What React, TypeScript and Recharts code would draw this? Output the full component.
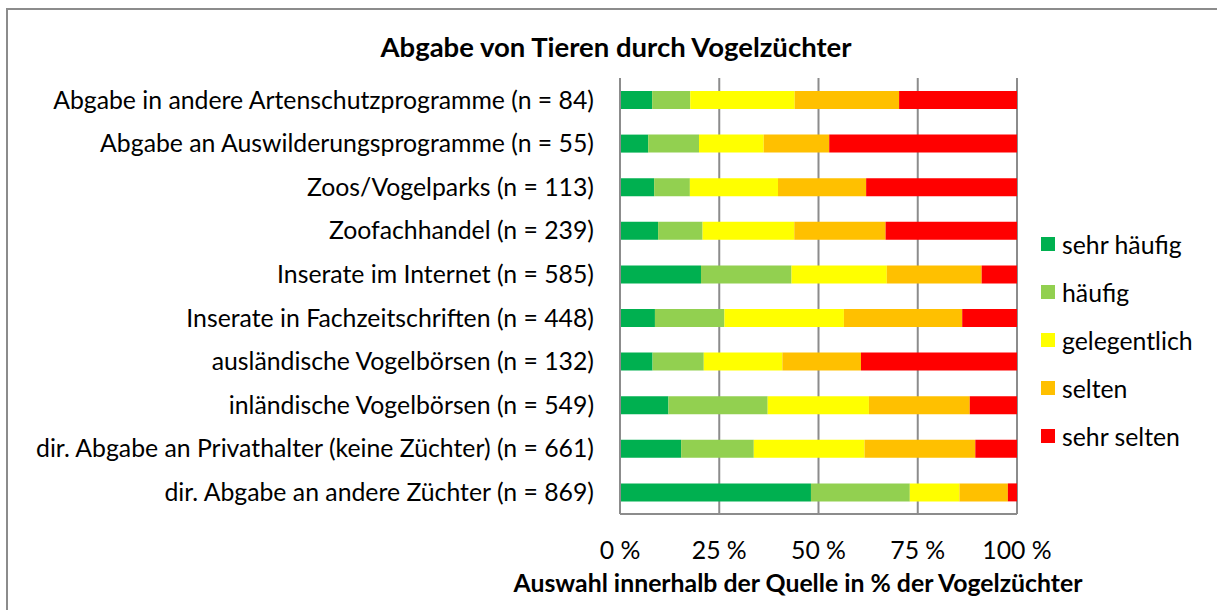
import React from "react";
import { BarChart, Bar, XAxis, YAxis, CartesianGrid, Legend } from "recharts";

const categories = [
  "Abgabe in andere Artenschutzprogramme (n = 84)",
  "Abgabe an Auswilderungsprogramme (n = 55)",
  "Zoos/Vogelparks (n = 113)",
  "Zoofachhandel (n = 239)",
  "Inserate im Internet (n = 585)",
  "Inserate in Fachzeitschriften (n = 448)",
  "ausländische Vogelbörsen (n = 132)",
  "inländische Vogelbörsen (n = 549)",
  "dir. Abgabe an Privathalter (keine Züchter) (n = 661)",
  "dir. Abgabe an andere Züchter (n = 869)",
];

const sehrHaeufig = [8.1, 7.1, 8.6, 9.6, 20.4, 8.8, 8.2, 12.2, 15.4, 48.1];
const haeufig = [9.6, 12.8, 9.0, 11.2, 22.8, 17.5, 12.9, 25.0, 18.3, 24.9];
const gelegentlich = [26.3, 16.3, 22.2, 23.1, 24.0, 30.1, 19.8, 25.5, 27.9, 12.5];
const selten = [26.3, 16.5, 22.2, 23.0, 23.9, 29.8, 19.8, 25.4, 27.9, 12.2];
const sehrSelten = [29.7, 47.3, 38.0, 33.1, 8.9, 13.8, 39.3, 11.9, 10.5, 2.3];

const xTicks = [0, 25, 50, 75, 100];

const series = [
  { key: "sehrHaeufig", name: "sehr häufig", color: "#00B050", values: sehrHaeufig },
  { key: "haeufig", name: "häufig", color: "#92D050", values: haeufig },
  { key: "gelegentlich", name: "gelegentlich", color: "#FFFF00", values: gelegentlich },
  { key: "selten", name: "selten", color: "#FFC000", values: selten },
  { key: "sehrSelten", name: "sehr selten", color: "#FF0000", values: sehrSelten },
];

const data = categories.map((c, i) => {
  const row: Record<string, any> = { name: c };
  series.forEach((s) => (row[s.key] = s.values[i]));
  return row;
});

const FONT = "Lato, 'Open Sans', sans-serif";
const FS = 24.8;

const renderLegend = () => (
  <div style={{ fontFamily: FONT, fontSize: FS, color: "#000" }}>
    {series.map((s) => (
      <div key={s.key} style={{ display: "flex", alignItems: "center", height: 48 }}>
        <div style={{ width: 14, height: 14, background: s.color, marginRight: 7, flexShrink: 0 }} />
        <span style={{ whiteSpace: "nowrap" }}>{s.name}</span>
      </div>
    ))}
  </div>
);

export default function App() {
  return (
    <div style={{ position: "absolute", left: 0, top: 0, width: 1217, height: 610, background: "#fff", overflow: "hidden" }}>
      <div
        style={{
          position: "absolute",
          left: 6,
          top: 8,
          width: 1300,
          height: 700,
          borderLeft: "2px solid #8c8c8c",
          borderTop: "2px solid #8c8c8c",
          boxSizing: "border-box",
        }}
      />
      <div
        style={{
          position: "absolute",
          left: 0,
          top: 32,
          width: 1232,
          textAlign: "center",
          fontFamily: FONT,
          fontWeight: "bold",
          fontSize: 27.5,
          lineHeight: "30px",
          color: "#000",
        }}
      >
        Abgabe von Tieren durch Vogelzüchter
      </div>
      <div
        style={{
          position: "absolute",
          left: 0,
          top: 568,
          width: 1596,
          textAlign: "center",
          fontFamily: FONT,
          fontWeight: "bold",
          fontSize: 24.8,
          lineHeight: "30px",
          color: "#000",
        }}
      >
        Auswahl innerhalb der Quelle in % der Vogelzüchter
      </div>
      <div style={{ position: "absolute", left: 0, top: 0 }}>
        <BarChart
          width={1217}
          height={610}
          data={data}
          layout="vertical"
          margin={{ top: 78, bottom: 0, left: 0, right: 30 }}
          barCategoryGap={0}
        >
          <CartesianGrid horizontal={false} stroke="#8c8c8c" strokeWidth={2} />
          <XAxis
            type="number"
            domain={[0, 100]}
            ticks={xTicks}
            tickFormatter={(v) => `${v} %`}
            axisLine={{ stroke: "#8c8c8c", strokeWidth: 2 }}
            tickLine={false}
            tickMargin={21}
            height={96}
            tick={{ fontFamily: FONT, fontSize: FS, fill: "#000" }}
            interval={0}
          />
          <YAxis
            type="category"
            dataKey="name"
            width={620}
            axisLine={{ stroke: "#8c8c8c", strokeWidth: 2 }}
            tickLine={false}
            tickSize={0}
            tickMargin={26}
            interval={0}
            tick={{ fontFamily: FONT, fontSize: FS, fill: "#000" }}
          />
          <Legend
            layout="vertical"
            verticalAlign="top"
            align="right"
            content={renderLegend}
            wrapperStyle={{ position: "absolute", left: 1041, top: 220, width: 170 }}
          />
          {series.map((s) => (
            <Bar
              key={s.key}
              dataKey={s.key}
              name={s.name}
              stackId="a"
              fill={s.color}
              barSize={18}
              isAnimationActive={false}
            />
          ))}
        </BarChart>
      </div>
    </div>
  );
}
